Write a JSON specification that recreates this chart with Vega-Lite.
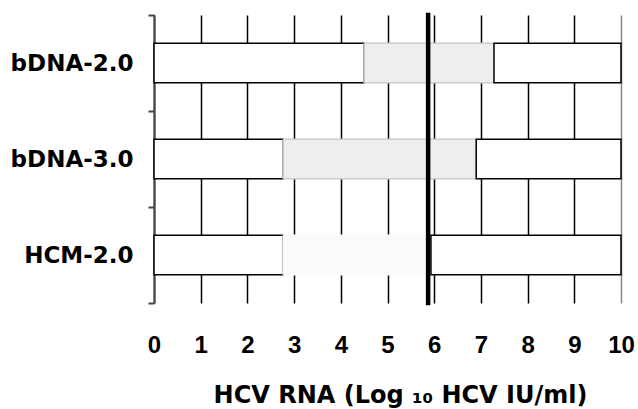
{
  "$schema": "https://vega.github.io/schema/vega-lite/v6.json",
  "autosize": "none",
  "width": 467,
  "height": 288,
  "padding": {"left": 154, "top": 15, "right": 17, "bottom": 106},
  "background": "white",
  "config": {"view": {"stroke": null}},
  "layer": [
    {
      "data": {
        "values": [
          {"assay": "bDNA-2.0", "start": 0, "end": 4.5, "part": "limit"},
          {"assay": "bDNA-2.0", "start": 4.5, "end": 7.28, "part": "range"},
          {"assay": "bDNA-2.0", "start": 7.28, "end": 10, "part": "limit"},
          {"assay": "bDNA-3.0", "start": 0, "end": 2.77, "part": "limit"},
          {"assay": "bDNA-3.0", "start": 2.77, "end": 6.9, "part": "range"},
          {"assay": "bDNA-3.0", "start": 6.9, "end": 10, "part": "limit"},
          {"assay": "HCM-2.0", "start": 0, "end": 2.77, "part": "limit"},
          {"assay": "HCM-2.0", "start": 2.77, "end": 5.93, "part": "range_light"},
          {"assay": "HCM-2.0", "start": 5.93, "end": 10, "part": "limit"}
        ]
      },
      "mark": {"type": "bar", "height": {"band": 0.41}, "strokeWidth": 1.5},
      "encoding": {
        "y": {
          "field": "assay",
          "type": "nominal",
          "sort": null,
          "scale": {"paddingInner": 0, "paddingOuter": 0},
          "axis": {
            "title": null,
            "domainColor": "#444",
            "domainWidth": 2,
            "tickColor": "#444",
            "tickWidth": 2,
            "tickSize": 6,
            "tickBand": "extent",
            "labelFont": "DejaVu Sans",
            "labelFontWeight": "bold",
            "labelFontSize": 23,
            "labelColor": "black",
            "labelPadding": 15,
            "grid": false
          }
        },
        "x": {
          "field": "start",
          "type": "quantitative",
          "scale": {"domain": [0, 10], "nice": false, "zero": false},
          "axis": {
            "values": [0, 1, 2, 3, 4, 5, 6, 7, 8, 9, 10],
            "title": "HCV RNA (Log ₁₀ HCV IU/ml)",
            "titleFont": "DejaVu Sans",
            "titleFontWeight": "bold",
            "titleFontSize": 24,
            "titleColor": "black",
            "titleBaseline": "alphabetic",
            "titleAnchor": "middle",
            "titleAlign": "center",
            "titleX": 246,
            "titleY": 99,
            "domain": false,
            "ticks": false,
            "tickSize": 0,
            "labelFont": "Liberation Sans",
            "labelFontWeight": "bold",
            "labelFontSize": 24,
            "labelColor": "black",
            "labelPadding": 30,
            "labelFlush": false,
            "grid": true,
            "gridColor": {"condition": {"test": "datum.value === 10", "value": "#888"}, "value": "black"},
            "gridWidth": 1.5,
            "gridOpacity": 1
          }
        },
        "x2": {"field": "end"},
        "fill": {
          "field": "part",
          "type": "nominal",
          "scale": {"domain": ["limit", "range", "range_light"], "range": ["#ffffff", "#eeeeee", "#fbfbfb"]},
          "legend": null
        },
        "stroke": {
          "field": "part",
          "type": "nominal",
          "scale": {"domain": ["limit", "range", "range_light"], "range": ["#000000", "#cccccc", "#fbfbfb"]},
          "legend": null
        }
      }
    },
    {
      "data": {"values": [{"cutoff": 5.87}]},
      "mark": {"type": "rule", "color": "black", "strokeWidth": 4.5, "strokeCap": "square"},
      "encoding": {
        "x": {"field": "cutoff", "type": "quantitative"}
      }
    }
  ]
}
